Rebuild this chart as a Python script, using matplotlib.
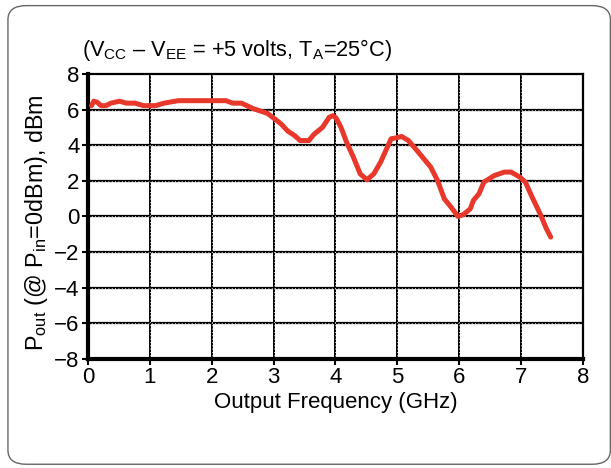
import numpy as np
import matplotlib
matplotlib.use("Agg")
import matplotlib.pyplot as plt
from matplotlib.patches import FancyBboxPatch

# Valeurs
freq_ghz = [0.056, 0.094, 0.15, 0.21, 0.29, 0.37, 0.51, 0.62, 0.76, 0.90, 1.09,
            1.23, 1.46, 1.79, 2.23, 2.34, 2.48, 2.68, 2.90, 3.04, 3.12, 3.23,
            3.34, 3.43, 3.57, 3.65, 3.79, 3.90, 3.96, 4.01, 4.09, 4.18, 4.29,
            4.40, 4.51, 4.62, 4.73, 4.90, 4.98, 5.07, 5.18, 5.34, 5.54, 5.65,
            5.76, 5.87, 5.98, 6.07, 6.18, 6.23, 6.32, 6.40, 6.57, 6.73, 6.84,
            6.98, 7.07, 7.18, 7.32, 7.41, 7.48]
pout_dbm = [6.22, 6.47, 6.41, 6.22, 6.22, 6.36, 6.47, 6.36, 6.36, 6.22, 6.22,
            6.36, 6.50, 6.50, 6.50, 6.36, 6.36, 6.04, 5.79, 5.42, 5.20, 4.79,
            4.54, 4.26, 4.26, 4.60, 5.00, 5.57, 5.66, 5.53, 5.00, 4.17, 3.33,
            2.39, 2.06, 2.39, 3.05, 4.36, 4.41, 4.49, 4.26, 3.61, 2.77, 2.02,
            0.99, 0.52, 0.00, 0.11, 0.43, 0.90, 1.27, 1.93, 2.30, 2.49, 2.49,
            2.21, 1.93, 1.08, 0.06, -0.69, -1.16]

x_ticks = np.arange(0, 9, 1)
y_ticks = np.arange(-8, 10, 2)

plt.rcParams['font.family'] = ['Liberation Sans', 'DejaVu Sans']
plt.rcParams['mathtext.fontset'] = 'custom'
plt.rcParams['mathtext.rm'] = 'Liberation Sans'
plt.rcParams['mathtext.default'] = 'rm'

fig = plt.figure(figsize=(6.11, 4.68), dpi=100)

# cadre arrondi autour de la figure
cadre = FancyBboxPatch((0.013, 0.008), 0.986, 0.98,
                       boxstyle="round,pad=0,rounding_size=0.03",
                       transform=fig.transFigure, fill=False,
                       edgecolor='#666666', linewidth=1.0)
fig.patches.append(cadre)

ax = fig.add_axes([0.144, 0.233, 0.81, 0.609])

# grille noire avec pointillé blanc par-dessus
for xv in x_ticks[1:-1]:
    ax.axvline(xv, color='black', lw=1.4, zorder=1)
    ax.axvline(xv, color='white', lw=0.6, ls=(0, (1, 3)), zorder=1.5)
for yv in y_ticks[1:-1]:
    ax.axhline(yv, color='black', lw=1.6, zorder=1)
    ax.axhline(yv, color='white', lw=0.6, ls=(0, (1, 3)), zorder=1.5)

ax.plot(freq_ghz, pout_dbm, color='#e8382b', lw=3.6, solid_capstyle='round',
        solid_joinstyle='round', zorder=3)

ax.set_xlim(0, 8)
ax.set_ylim(-8, 8)
ax.set_xticks(x_ticks)
ax.set_yticks(y_ticks)
ax.set_yticklabels([str(v).replace('-', '\u2212') for v in y_ticks])

for side in ['top', 'right']:
    ax.spines[side].set_linewidth(1.6)
for side in ['left', 'bottom']:
    ax.spines[side].set_linewidth(3.0)

ax.tick_params(axis='both', direction='out', length=4, width=1.5,
               labelsize=16, pad=2)

ax.set_xlabel('Output Frequency (GHz)', fontsize=16, labelpad=3)
ax.set_ylabel(r'P$_{out}$ (@ P$_{in}$=0dBm), dBm', fontsize=16.8, labelpad=3)
ax.yaxis.label.set_y(0.48)

fig.text(0.134, 0.893, r'(V$_{CC}$ – V$_{EE}$ = +5 volts, T$_A$=25°C)',
         fontsize=15.7, ha='left', va='center')

plt.savefig('out.png', dpi=100)
